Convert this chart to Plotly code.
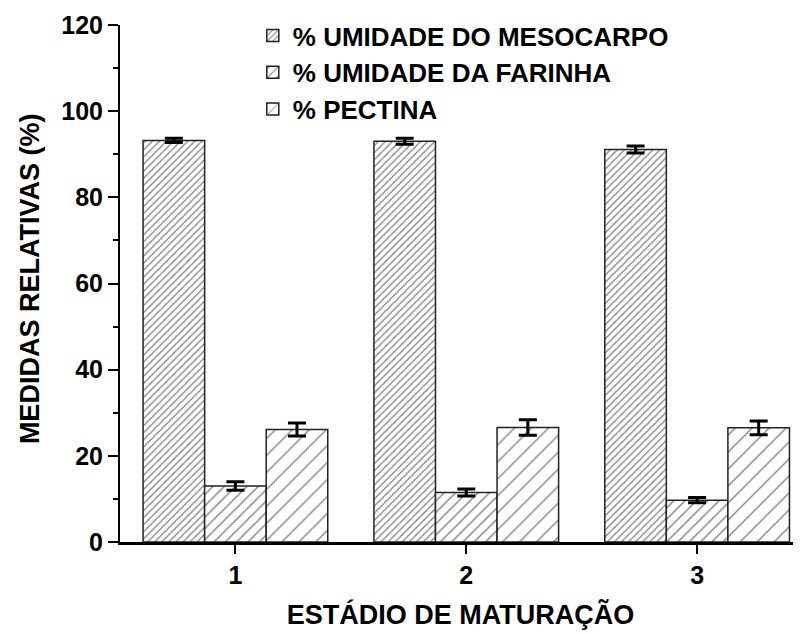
import plotly.graph_objects as go

# ── Data ──
estadios = [1, 2, 3]
umidade_mesocarpo = [93.2, 93.0, 91.1]
umidade_mesocarpo_err = [0.5, 0.7, 0.8]
umidade_farinha = [13.0, 11.5, 9.7]
umidade_farinha_err = [1.0, 0.8, 0.6]
pectina = [26.1, 26.6, 26.5]
pectina_err = [1.5, 1.8, 1.6]

FONT = "Arial, 'Liberation Sans', sans-serif"

series = [
    ("% UMIDADE DO MESOCARPO", umidade_mesocarpo, umidade_mesocarpo_err, 5, 0.25),
    ("% UMIDADE DA FARINHA", umidade_farinha, umidade_farinha_err, 8, 0.17),
    ("% PECTINA", pectina, pectina_err, 12, 0.11),
]

fig = go.Figure()
for name, vals, errs, size, solid in series:
    fig.add_trace(go.Bar(
        x=estadios, y=vals, name=name,
        marker=dict(
            color="white",
            line=dict(color="#222", width=1.5),
            pattern=dict(shape="/", fgcolor="black", bgcolor="white",
                         size=size, solidity=solid),
        ),
        error_y=dict(type="data", array=errs, color="black",
                     thickness=3, width=9),
    ))

# page body has an 8px margin, so the figure is a bit smaller than the window
fig.update_layout(
    width=793, height=626,
    barmode="group", bargap=0.2, bargroupgap=0,
    plot_bgcolor="white", paper_bgcolor="white",
    font=dict(family=FONT, size=25, color="black"),
    margin=dict(l=112, r=0, t=17, b=92),
    showlegend=True,
    legend=dict(
        x=0.195, y=1.025, xanchor="left", yanchor="top",
        bgcolor="rgba(0,0,0,0)",
        font=dict(family=FONT, size=26, color="black", weight="bold"),
        itemwidth=30, tracegroupgap=0,
    ),
)
fig.update_xaxes(
    range=[0.5, 3.45], tickvals=estadios, ticktext=["1", "2", "3"],
    showline=True, linecolor="black", linewidth=2.5,
    ticks="outside", ticklen=9, tickwidth=2, tickcolor="black",
    showgrid=False, zeroline=False,
    tickfont=dict(family=FONT, size=25, weight="bold"),
    title=dict(text="<b>ESTÁDIO DE MATURAÇÃO</b>",
               font=dict(family=FONT, size=27), standoff=18),
)
fig.update_yaxes(
    range=[0, 120], dtick=20,
    showline=True, linecolor="black", linewidth=2,
    ticks="outside", ticklen=10, tickwidth=2, tickcolor="black",
    minor=dict(dtick=10, ticks="outside", ticklen=5, tickwidth=2, tickcolor="black"),
    showgrid=False, zeroline=False,
    tickfont=dict(family=FONT, size=25, weight="bold"),
)
# y title as annotation, sits closer to the edge than the axis title would
fig.add_annotation(
    text="<b>MEDIDAS RELATIVAS (%)</b>", textangle=-90,
    xref="paper", yref="paper", x=-0.131, y=0.51,
    xanchor="center", yanchor="middle", showarrow=False,
    font=dict(family=FONT, size=27, color="black"),
)

fig.write_html("out.html")
